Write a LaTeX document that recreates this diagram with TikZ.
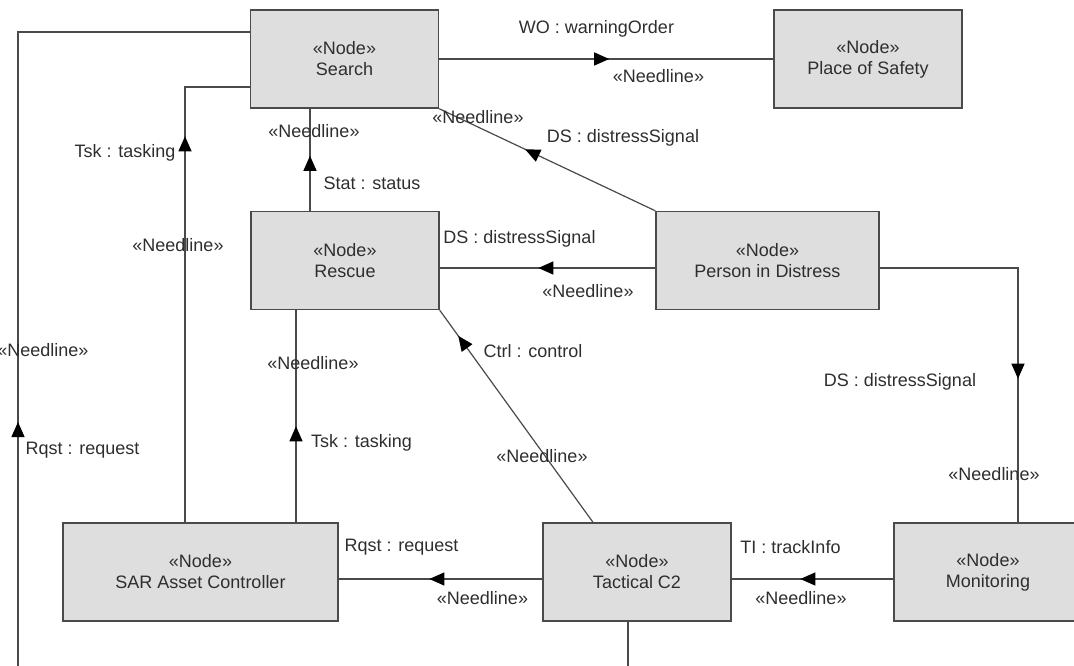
\documentclass[tikz,border=0pt]{standalone}
\usepackage{fontspec}
\setmainfont{Liberation Sans}
\usetikzlibrary{positioning,arrows.meta,decorations.markings}
\definecolor{boxgray}{HTML}{DEDEDE}
\definecolor{linegray}{HTML}{4A4A4A}
\definecolor{txtgray}{HTML}{2E2E2E}
\tikzset{
  nd/.style={draw=linegray, fill=boxgray, line width=1.4pt, minimum width=188pt, minimum height=98pt, inner sep=0pt, align=center, font=\fontsize{18}{21}\selectfont, text=txtgray},
  nl/.style={draw=linegray, line width=1.2pt},
  lbl/.style={font=\fontsize{18}{21}\selectfont, text=txtgray, inner sep=0pt},
  mid/.style={postaction={decorate}, decoration={markings, mark=at position #1 with {\arrow{Triangle[length=15pt,width=13pt,color=black]}}}},
}

\begin{document}
\begin{tikzpicture}[x=1pt, y=-1pt]
\useasboundingbox (0,0) rectangle (1074,666);
\clip (0,0) rectangle (1074,666);
% nodes
\node[nd] (search) at (344.5,59) {«Node»\\Search};
\node[nd] (safety) at (868,59) {«Node»\\Place of Safety};
\node[nd] (rescue) at (345,260.5) {«Node»\\Rescue};
\node[nd, minimum width=223pt] (pid) at (767.5,260.5) {«Node»\\Person in Distress};
\node[nd, minimum width=275pt] (sac) at (200.5,572) {«Node»\\SAR Asset Controller};
\node[nd] (tc2) at (637,572) {«Node»\\Tactical C2};
\node[nd] (mon) at (988,572) {«Node»\\Monitoring};
\coordinate (rqin) at (18,672);
\coordinate (tcout) at (628,672);
% needlines
\draw[nl, mid=170pt] (search.east) -- (safety.west);
\draw[nl, mid=144pt] (pid.north west) -- (search.south east);
\draw[nl, mid=55pt] ([xshift=-35pt]rescue.north) -- ([xshift=-35pt]rescue.north |- search.south);
\draw[nl, mid=117pt] ([yshift=-7.5pt]pid.west) -- ([yshift=-7.5pt]pid.west -| rescue.east);
\draw[nl, mid=386pt] ([xshift=-15.5pt]sac.north) |- ([yshift=-28pt]search.west);
\draw[nl, mid=250pt] (rqin) |- ([yshift=27pt]search.west);
\draw[nl, mid=96pt] ([xshift=95.5pt]sac.north) -- ([xshift=95.5pt]sac.north |- rescue.south);
\draw[nl, mid=230pt] ([xshift=-44pt]tc2.north) -- (rescue.south east);
\draw[nl, mid=113pt] ([yshift=-7pt]tc2.west) -- ([yshift=-7pt]tc2.west -| sac.east);
\draw[nl, mid=93pt] ([yshift=-7pt]mon.west) -- ([yshift=-7pt]mon.west -| tc2.east);
\draw[nl, mid=249pt] ([yshift=-7.5pt]pid.east) -| ([xshift=30pt]mon.north);
\draw[nl] ([xshift=-9pt]tc2.south) -- (tcout);
% labels
\node[lbl] (wo) at (596.5,29) {WO : warningOrder};
\node[lbl] (won) at (658.5,76) {«Needline»};
\node[lbl] (dsa) at (623,138) {DS : distressSignal};
\node[lbl] (dsan) at (478,117) {«Needline»};
\node[lbl] (stat) at (372,183) {Stat : status};
\node[lbl] (statn) at (314,131) {«Needline»};
\node[lbl] (tska) at (125,153) {Tsk : tasking};
\node[lbl] (tskan) at (178,245) {«Needline»};
\node[lbl] (dsb) at (519.5,239) {DS : distressSignal};
\node[lbl] (dsbn) at (588,291) {«Needline»};
\node[lbl] (rqa) at (82.5,450) {Rqst : request};
\node[lbl] (rqan) at (43,350) {«Needline»};
\node[lbl] (tskb) at (361.5,443) {Tsk : tasking};
\node[lbl] (tskbn) at (313,363) {«Needline»};
\node[lbl] (ctrl) at (533,351) {Ctrl : control};
\node[lbl] (ctrln) at (542,456) {«Needline»};
\node[lbl] (rqb) at (401.5,547) {Rqst : request};
\node[lbl] (rqbn) at (482.5,598) {«Needline»};
\node[lbl] (ti) at (790.5,547) {TI : trackInfo};
\node[lbl] (tin) at (801,598) {«Needline»};
\node[lbl] (dsc) at (900,382) {DS : distressSignal};
\node[lbl] (dscn) at (994,474) {«Needline»};
\end{tikzpicture}
\end{document}
